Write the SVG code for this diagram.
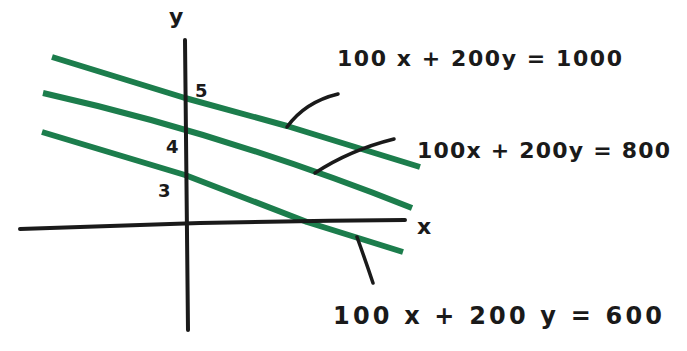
<svg xmlns="http://www.w3.org/2000/svg" width="687" height="351" viewBox="0 0 687 351">
<style>
.bg{fill:#ffffff}
.axis{stroke:#1a1a1a;stroke-width:4;fill:none;stroke-linecap:round}
.green{stroke:#1c7d4c;stroke-width:6;fill:none;stroke-linecap:butt;stroke-linejoin:round}
.lead{stroke:#1a1a1a;stroke-width:3.5;fill:none;stroke-linecap:round}
.lbl{font-family:"Comic Sans MS","DejaVu Sans","Liberation Sans",sans-serif;font-weight:bold;fill:#1a1a1a}
</style>
<rect class="bg" x="0" y="0" width="687" height="351"/>
<g id="lines">
<path class="green" d="M52,57 L185,98 L287,126 L420,167"/>
<path class="green" d="M43,93 Q227.5,134.5 412,208"/>
<path class="green" d="M42,132 L185,175 L307,222 L403,252"/>
</g>
<g id="axes">
<path class="axis" d="M185,40 L188,330"/>
<path class="axis" d="M20,229 Q120,226 200,223 Q300,221 405,220"/>
<text class="lbl" x="169" y="24" font-size="22">y</text>
<text class="lbl" x="417" y="234" font-size="22">x</text>
<text class="lbl" x="195" y="97" font-size="18">5</text>
<text class="lbl" x="166" y="153" font-size="18">4</text>
<text class="lbl" x="158" y="197" font-size="18">3</text>
</g>
<g id="connectors">
<path class="lead" d="M287,127 Q305,102 338,94"/>
<path class="lead" d="M315,173 Q350,150 394,139"/>
<path class="lead" d="M357,237 Q366,262 373,283"/>
</g>
<g id="label-1000">
<text class="lbl" x="337" y="66" font-size="22" textLength="285" lengthAdjust="spacing">100 x + 200y = 1000</text>
</g>
<g id="label-800">
<text class="lbl" x="417" y="158" font-size="22" textLength="253" lengthAdjust="spacing">100x + 200y = 800</text>
</g>
<g id="label-600">
<text class="lbl" x="333" y="324" font-size="24" textLength="329" lengthAdjust="spacing">100 x + 200 y = 600</text>
</g>
</svg>
